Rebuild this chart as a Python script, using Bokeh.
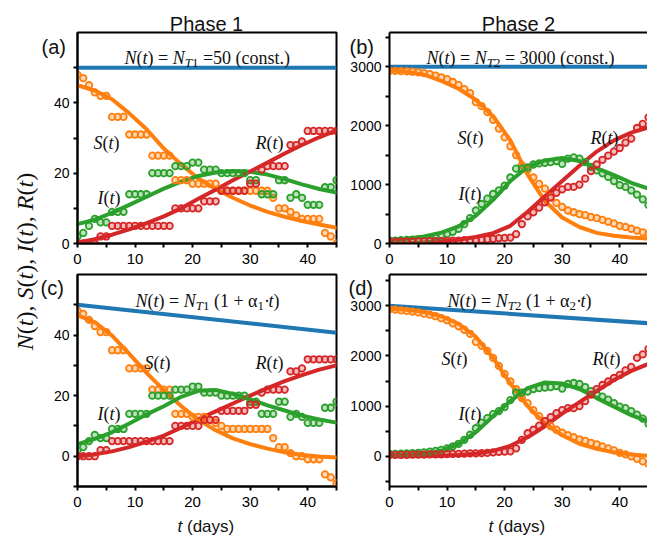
import math
from bokeh.plotting import figure
from bokeh.models import Range1d, FixedTicker, LinearAxis, Label
from bokeh.core.properties import value
from bokeh.layouts import row, column
from bokeh.embed import file_html
from bokeh.resources import INLINE

# ---------------- data ----------------
t_days = list(range(46))
t_fit = [0, 3, 6, 9, 12, 15, 18, 21, 24, 27, 30, 33, 36, 39, 42, 45]
t_line = [0, 45]

# Phase 1 observations
I1_obs = [2, 3, 5, 7, 6, 6, 9, 9, 9, 14, 14, 14, 14, 20, 20, 20, 20, 22, 22, 22,
          23, 23, 21, 21, 21, 20, 20, 20, 20, 20, 18, 18, 14, 14, 14, 18, 18, 13, 14, 13,
          11, 11, 11, 16, 16, 18]
R1_obs = [0, 0, 0, 0, 2, 2, 5, 5, 5, 5, 5, 5, 5, 5, 5, 5, 5, 10, 10, 10,
          10, 10, 12, 12, 12, 15, 15, 15, 15, 15, 17, 17, 21, 22, 22, 22, 22, 28, 28, 29,
          32, 32, 32, 32, 32, 32]
S1_obs_const = [48, 47, 45, 43, 42, 42, 36, 36, 36, 31, 31, 31, 31, 25, 25, 25, 25, 18, 18, 18,
                17, 17, 17, 17, 17, 15, 15, 15, 15, 15, 15, 15, 15, 15, 13, 10, 10, 9, 8, 7,
                7, 7, 7, 3, 2, 0]
S1_obs_var = [48, 47, 45, 43, 41, 41, 35, 35, 35, 29, 29, 29, 29, 22, 22, 22, 22, 14, 14, 14,
              13, 13, 13, 12, 11, 10, 9, 9, 9, 9, 9, 9, 9, 9, 6, 3, 3, 1, 0, 0,
              -1, -1, -1, -6, -7, -9]

# Phase 1 fits
N1_const = [50, 50]
S1_fit_const = [45, 43.5, 41, 37, 32.5, 27, 22.5, 18.5, 15.5, 13, 10.8, 9, 7.6, 6.4, 5.4, 4.5]
I1_fit_const = [5.5, 6.8, 8.7, 11, 13.3, 15.6, 17.6, 19.2, 20.2, 20.6, 20.4, 19.6, 18.3, 16.8, 15.5, 14.5]
R1_fit_const = [0.2, 1.2, 2.5, 4, 5.8, 7.7, 10, 12.7, 15.3, 18, 20.5, 23, 25.6, 28, 30.2, 32.2]
N1_var = [50, 40.8]
S1_fit_var = [46.5, 44.3, 39.8, 33.8, 27.5, 21.8, 16.6, 12, 8.6, 5.9, 4, 2.5, 1.3, 0.4, -0.1, -0.4]
I1_fit_var = [4, 5.7, 7.9, 10.8, 13.8, 16.5, 19.6, 21.6, 21.9, 20.6, 18.8, 16.8, 15.1, 13.4, 12.1, 11.1]
R1_fit_var = [0, 0.6, 1.6, 3, 4.8, 6.8, 9.4, 12.2, 14.8, 17.4, 20, 22.5, 24.8, 26.8, 28.6, 30]

# Phase 2 observations
I2_obs = [50, 50, 55, 60, 65, 70, 80, 95, 110, 130, 160, 200, 250, 330, 430, 560, 670, 760, 840, 900,
          980, 1120, 1270, 1270, 1290, 1340, 1360, 1370, 1380, 1400, 1350, 1440, 1460, 1440, 1380, 1300,
          1240, 1190, 1130, 1060, 990, 960, 900, 830, 750, 650]
R2_obs = [30, 30, 30, 30, 35, 35, 35, 40, 40, 40, 45, 50, 50, 55, 60, 60, 65, 70, 80, 90,
          95, 100, 160, 330, 460, 530, 610, 700, 780, 860, 920, 960, 960, 1000, 1100, 1230,
          1340, 1420, 1490, 1560, 1620, 1710, 1780, 1960, 2030, 2140]
S2_obs_const = [2930, 2930, 2925, 2920, 2915, 2905, 2890, 2875, 2850, 2820, 2790, 2740, 2690, 2620,
                2550, 2400, 2330, 2230, 2100, 1950, 1800, 1650, 1500, 1330, 1250, 1120, 1010, 930,
                790, 690, 620, 560, 530, 500, 480, 450, 430, 400, 370, 340, 300, 280, 250, 220, 190, 160]
S2_obs_var = [2930, 2920, 2905, 2895, 2880, 2865, 2840, 2820, 2790, 2750, 2710, 2650, 2590, 2520,
              2440, 2280, 2200, 2100, 1960, 1800, 1640, 1490, 1340, 1160, 1060, 920, 800, 700,
              600, 530, 470, 420, 380, 340, 310, 270, 240, 200, 160, 120, 70, 40, 0, -50, -100, -150]

# Phase 2 fits
N2_const = [3000, 3000]
S2_fit_const = [2940, 2915, 2865, 2760, 2625, 2440, 2160, 1750, 1170, 720, 440, 280, 180, 130, 100, 85]
I2_fit_const = [60, 80, 120, 185, 290, 470, 740, 1060, 1300, 1410, 1450, 1400, 1280, 1160, 1030, 930]
R2_fit_const = [0, 5, 15, 35, 65, 110, 175, 300, 540, 800, 1060, 1320, 1560, 1750, 1880, 1970]
N2_var = [3000, 2650]
S2_fit_var = [2940, 2920, 2875, 2790, 2640, 2380, 1960, 1450, 1000, 650, 420, 250, 150, 80, 35, 10]
I2_fit_var = [20, 30, 55, 110, 250, 480, 800, 1100, 1360, 1470, 1450, 1340, 1160, 990, 820, 690]
R2_fit_var = [0, 2, 5, 10, 25, 50, 110, 210, 380, 600, 850, 1080, 1300, 1520, 1700, 1840]

x_major = [0, 10, 20, 30, 40]
x_minor = [5, 15, 25, 35, 45]

# ---------------- style ----------------
BLUE, ORANGE, GREEN, RED = "#1f77b4", "#ff7f0e", "#2ca02c", "#d62728"
SERIF = "Liberation Serif"
SANS = "Liberation Sans"
INK = "#111111"

W_R = {' ': 0.25, '(': 0.333, ')': 0.333, '=': 0.564, '+': 0.564, '.': 0.25, ',': 0.25,
       'c': 0.444, 'o': 0.5, 'n': 0.5, 's': 0.389, 't': 0.278, '\u00b7': 0.25, '\u03b1': 0.52}
W_I = {'N': 0.667, 't': 0.278, 'T': 0.556, 'S': 0.5, 'I': 0.333, 'R': 0.611,
       '(': 0.333, ')': 0.333, ' ': 0.25, ',': 0.25}


def tw(s, italic, size):
    tab = W_I if italic else W_R
    return sum(tab.get(ch, 0.5) for ch in s) * size


def rich(p, x, y, pieces, vertical=False):
    """Place styled text pieces one after another (left-to-right, or bottom-to-top when vertical)."""
    pos = y if vertical else x
    for s, it, sz, dy in pieces:
        lead = len(s) - len(s.lstrip(' '))
        core = s.strip(' ')
        if core:
            start = pos + tw(' ' * lead, it, sz)
            if vertical:
                lx, ly, ang = x - dy, start, math.pi / 2
            else:
                lx, ly, ang = start, y + dy, 0
            p.add_layout(Label(x=lx, y=ly, x_units="screen", y_units="screen", angle=ang,
                               text=core, text_font=SERIF,
                               text_font_style="italic" if it else "normal",
                               text_font_size=f"{sz}px", text_color=INK,
                               text_baseline="alphabetic", text_align="left"))
        pos += tw(s, it, sz)


FRAME = {}


def out_text(p, px, py, text, size, align="left", style="normal", font=SANS):
    """Text outside the plot frame, placed by frame-relative pixels, drawn unclipped."""
    fw, fh = FRAME[id(p)]
    xr, yr = p.x_range, p.y_range
    xd = xr.start + px * (xr.end - xr.start) / fw
    yd = yr.start + py * (yr.end - yr.start) / fh
    p.text(x=[xd], y=[yd], text=[text], text_font=value(font), text_font_size=value(f"{size}px"),
           text_font_style=value(style), text_align=value(align), text_baseline=value("alphabetic"),
           text_color=INK, level="overlay")


def fn(letter, size=18):
    return [(letter, True, size, 0), ("(", False, size, 0), ("t", True, size, 0), (")", False, size, 0)]


def style_axis(ax, size, standoff):
    ax.axis_line_width = 2
    ax.axis_line_color = "black"
    ax.major_tick_line_width = 2
    ax.minor_tick_line_width = 2
    ax.major_tick_line_color = "black"
    ax.minor_tick_line_color = "black"
    ax.major_tick_in = 0
    ax.major_tick_out = 4
    ax.minor_tick_in = 0
    ax.minor_tick_out = 4
    ax.major_label_text_font = SANS
    ax.major_label_text_font_size = size
    ax.major_label_text_color = "black"
    ax.major_label_standoff = standoff


def panel(width, height, x_end, y_rng, yticks, yminor, borders, closed):
    p = figure(width=width, height=height, x_range=Range1d(0, x_end), y_range=Range1d(*y_rng),
               toolbar_location=None, output_backend="svg",
               min_border_left=borders[0], min_border_right=borders[1],
               min_border_top=borders[2], min_border_bottom=borders[3],
               background_fill_color="white", border_fill_color="white")
    FRAME[id(p)] = (width - borders[0] - borders[1], height - borders[2] - borders[3])
    p.xgrid.visible = False
    p.ygrid.visible = False
    p.xaxis.ticker = FixedTicker(ticks=x_major, minor_ticks=x_minor)
    p.yaxis.ticker = FixedTicker(ticks=yticks, minor_ticks=yminor)
    style_axis(p.xaxis[0], "15px", 6)
    style_axis(p.yaxis[0], "14px", 4)
    if closed:
        p.outline_line_color = "black"
        p.outline_line_width = 2
    else:
        p.outline_line_color = None
        top = LinearAxis(ticker=FixedTicker(ticks=[]), axis_line_width=2, axis_line_color="black",
                         major_tick_out=0, major_label_standoff=0)
        p.add_layout(top, "above")
    return p


def draw(p, N, S_fit, I_fit, R_fit, S_obs, I_obs, R_obs):
    p.line(t_line, N, line_width=4, color=BLUE)
    for fit, c in ((S_fit, ORANGE), (I_fit, GREEN), (R_fit, RED)):
        p.line(t_fit, fit, line_width=4, color=c, line_cap="round", line_join="round")
    for obs, c in ((S_obs, ORANGE), (I_obs, GREEN), (R_obs, RED)):
        p.scatter(t_days, obs, size=6.5, line_color=c, line_width=1.8, fill_color=c, fill_alpha=0.3)


YLAB_W, LEFT_W, RIGHT_W = 38, 301, 308
TOP_H, BOT_H = 272, 265
x_end_right = (RIGHT_W - 50) * 45.0 / 259

pa = panel(LEFT_W, TOP_H, 45, (0, 60), [0, 20, 40], [10, 30, 50], (39, 3, 32, 29), True)
pb = panel(RIGHT_W, TOP_H, x_end_right, (0, 3580), [0, 1000, 2000, 3000], [500, 1500, 2500, 3500],
           (50, 0, 32, 29), False)
pc = panel(LEFT_W, BOT_H, 45, (-10, 60), [0, 20, 40], [-10, 10, 30, 50], (39, 3, 2, 51), True)
pd = panel(RIGHT_W, BOT_H, x_end_right, (-600, 3620), [0, 1000, 2000, 3000],
           [-500, 500, 1500, 2500, 3500], (50, 0, 2, 51), False)

draw(pa, N1_const, S1_fit_const, I1_fit_const, R1_fit_const, S1_obs_const, I1_obs, R1_obs)
draw(pb, N2_const, S2_fit_const, I2_fit_const, R2_fit_const, S2_obs_const, I2_obs, R2_obs)
draw(pc, N1_var, S1_fit_var, I1_fit_var, R1_fit_var, S1_obs_var, I1_obs, R1_obs)
draw(pd, N2_var, S2_fit_var, I2_fit_var, R2_fit_var, S2_obs_var, I2_obs, R2_obs)

# titles and panel letters (outside the frames)
out_text(pa, 129, 220, "Phase 1", 20, align="center")
out_text(pb, 129, 220, "Phase 2", 20, align="center")
out_text(pa, -36, 197, "(a)", 20)
out_text(pb, -40, 197, "(b)", 20)
out_text(pc, -37, 199, "(c)", 20)
out_text(pd, -41, 199, "(d)", 20)

# x axis titles
for p, x0 in ((pc, 100), (pd, 99)):
    out_text(p, x0, -40, "t", 17, style="italic")
    out_text(p, x0 + 9.5, -40, "(days)", 17)

# model formulas
def head(sub):
    return [("N", True, 18, 0), ("(", False, 18, 0), ("t", True, 18, 0), (") = ", False, 18, 0),
            ("N", True, 18, 0), ("T", True, 13, -5), (sub, False, 13, -5)]

rich(pa, 47, 186, head("1") + [(" =50 (const.)", False, 18, 0)])
rich(pb, 37, 186, head("2") + [(" = 3000 (const.)", False, 18, 0)])
rich(pc, 58, 186, head("1") + [(" (1 + ", False, 18, 0), ("\u03b1", False, 18, 0), ("1", False, 13, -5),
                                ("\u00b7", False, 18, 0), ("t", True, 18, 0), (")", False, 18, 0)])
rich(pd, 58, 186, head("2") + [(" (1 + ", False, 18, 0), ("\u03b1", False, 18, 0), ("2", False, 13, -5),
                                ("\u00b7", False, 18, 0), ("t", True, 18, 0), (")", False, 18, 0)])

# curve labels
rich(pa, 16, 101, fn("S")); rich(pa, 20, 46, fn("I")); rich(pa, 178, 101, fn("R"))
rich(pb, 68, 106, fn("S")); rich(pb, 69, 50, fn("I")); rich(pb, 201, 106, fn("R"))
rich(pc, 67, 124, fn("S")); rich(pc, 20, 73, fn("I")); rich(pc, 178, 124, fn("R"))
rich(pd, 52, 128, fn("S")); rich(pd, 69, 73, fn("I")); rich(pd, 203, 128, fn("R"))

# shared y label (rotated, italic symbols with upright punctuation)
ylab = figure(width=YLAB_W, height=TOP_H + BOT_H, x_range=Range1d(0, 1), y_range=Range1d(0, 1),
              toolbar_location=None, output_backend="svg", min_border=0,
              x_axis_type=None, y_axis_type=None, outline_line_color=None)
ylab.grid.visible = False
YS = 24
ylab_pieces = (fn("N", YS) + [(", ", False, YS, 0)] + fn("S", YS) + [(", ", False, YS, 0)]
               + fn("I", YS) + [(", ", False, YS, 0)] + fn("R", YS))
ylab_len = sum(tw(s, it, sz) for s, it, sz, dy in ylab_pieces)
rich(ylab, 24, (TOP_H + BOT_H - 261) - ylab_len / 2, ylab_pieces, vertical=True)

layout = row(ylab, column(row(pa, pb), row(pc, pd)))

open("out.html", "w").write(file_html(layout, INLINE))
